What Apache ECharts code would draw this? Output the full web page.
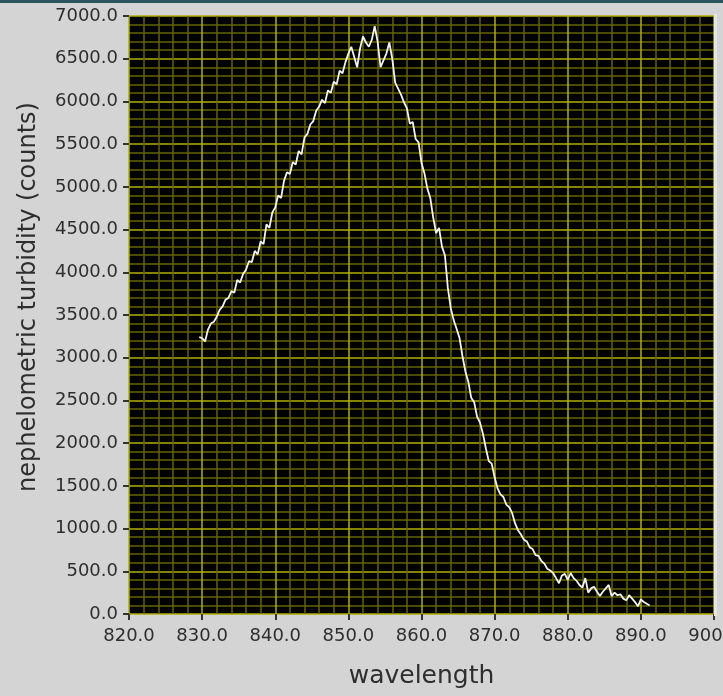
<!DOCTYPE html>
<html>
<head>
<meta charset="utf-8">
<script src="https://cdn.jsdelivr.net/npm/echarts@6/dist/echarts.min.js"></script>
<style>
html,body{margin:0;padding:0;background:#d4d4d4;}
#chart{width:723px;height:696px;}
</style>
</head>
<body>
<div id="chart"></div>
<script>
const wavelength = [
829.6,830.0,830.4,830.8,831.2,831.6,832.0,832.4,832.8,833.2,
833.6,834.0,834.4,834.8,835.2,835.6,836.0,836.4,836.8,837.2,
837.6,838.0,838.4,838.8,839.2,839.6,840.0,840.4,840.8,841.2,
841.6,842.0,842.4,842.8,843.2,843.6,844.0,844.4,844.8,845.2,
845.6,846.0,846.4,846.8,847.2,847.6,848.0,848.4,848.8,849.2,
849.6,850.0,850.4,850.8,851.2,851.6,852.0,852.4,852.8,853.2,
853.6,854.0,854.4,854.8,855.2,855.6,856.0,856.4,856.8,857.2,
857.6,858.0,858.4,858.8,859.2,859.6,860.0,860.4,860.8,861.2,
861.6,862.0,862.4,862.8,863.2,863.6,864.0,864.4,864.8,865.2,
865.6,866.0,866.4,866.8,867.2,867.6,868.0,868.4,868.8,869.2,
869.6,870.0,870.4,870.8,871.2,871.6,872.0,872.4,872.8,873.2,
873.6,874.0,874.4,874.8,875.2,875.6,876.0,876.4,876.8,877.2,
877.6,878.0,878.4,878.8,879.2,879.6,880.0,880.4,880.8,881.2,
881.6,882.0,882.4,882.8,883.2,883.6,884.0,884.4,884.8,885.2,
885.6,886.0,886.4,886.8,887.2,887.6,888.0,888.4,888.8,889.2,
889.6,890.0,890.4,890.8,891.2
];
const turbidity = [
3240,3230,3190,3330,3400,3420,3480,3560,3600,3680,
3700,3780,3760,3910,3880,3980,4030,4130,4120,4250,
4210,4360,4330,4560,4520,4700,4760,4900,4870,5070,
5170,5150,5290,5260,5420,5380,5580,5620,5730,5770,
5890,5940,6020,5980,6130,6100,6230,6200,6360,6330,
6460,6560,6640,6520,6400,6620,6760,6690,6640,6720,
6880,6700,6400,6480,6560,6690,6500,6220,6150,6080,
5990,5920,5740,5760,5560,5520,5280,5160,4980,4870,
4640,4460,4520,4300,4200,3820,3580,3440,3340,3230,
3020,2840,2720,2530,2480,2310,2240,2110,1940,1790,
1760,1600,1470,1400,1370,1280,1250,1180,1060,980,
930,870,850,780,760,690,680,620,590,530,
510,480,420,360,450,470,400,480,420,390,
340,310,420,250,300,320,260,210,260,300,
340,210,250,220,230,180,160,220,180,140,
90,170,140,120,100
];
const xTickLabels = ['820.0','830.0','840.0','850.0','860.0','870.0','880.0','890.0','900.0'];
const yTickLabels = ['0.0','500.0','1000.0','1500.0','2000.0','2500.0','3000.0','3500.0','4000.0','4500.0','5000.0','5500.0','6000.0','6500.0','7000.0'];
const xTitle = 'wavelength';
const yTitle = 'nephelometric turbidity (counts)';

const chart = echarts.init(document.getElementById('chart'), null, {renderer:'canvas'});
const font = 'DejaVu Sans';
const major = '#b0b000';
const minor = '#646400';
chart.setOption({
  backgroundColor: '#d4d4d4',
  animation: false,
  graphic: [
    {type:'rect', left:0, top:0, shape:{width:723, height:3}, style:{fill:'#2a5560'}, z:10},
    {type:'rect', left:714, top:14, shape:{width:3, height:602}, style:{fill:'#e6e6e6'}, z:10}
  ],
  grid: {left:129, right:9, top:16, bottom:82, show:true, backgroundColor:'#000', borderWidth:0, outerBoundsMode:'none', containLabel:false},
  xAxis: {
    type:'value', min:820, max:900, interval:10,
    name: xTitle, nameLocation:'middle', nameGap:50,
    nameTextStyle:{fontFamily:font, fontSize:25, color:'#2e2e2e'},
    axisLine:{show:false},
    axisTick:{show:true, length:6, lineStyle:{color:'#333', width:2}},
    axisLabel:{fontFamily:font, fontSize:18, color:'#2e2e2e', margin:13, hideOverlap:false,
      formatter:(v)=>xTickLabels[Math.round((v-820)/10)]},
    splitLine:{show:true, lineStyle:{color:major, width:1.5}},
    minorTick:{show:false, splitNumber:5},
    minorSplitLine:{show:true, lineStyle:{color:minor, width:1.5}}
  },
  yAxis: {
    type:'value', min:0, max:7000, interval:500,
    name: yTitle, nameLocation:'middle', nameGap:88, nameRotate:90,
    nameTextStyle:{fontFamily:font, fontSize:24, color:'#2e2e2e', padding:[0,0,0,36]},
    axisLine:{show:false},
    axisTick:{show:true, length:6, lineStyle:{color:'#333', width:2}},
    axisLabel:{fontFamily:font, fontSize:18, color:'#2e2e2e', margin:11,
      formatter:(v)=>yTickLabels[Math.round(v/500)]},
    splitLine:{show:true, lineStyle:{color:major, width:1.5}},
    minorTick:{show:false, splitNumber:5},
    minorSplitLine:{show:true, lineStyle:{color:minor, width:1.5}}
  },
  series: [{
    type:'line',
    data: wavelength.map((w,i)=>[w, turbidity[i]]),
    showSymbol:false,
    lineStyle:{color:'#f2f2f2', width:1.8},
    z:5
  }]
});
</script>
</body>
</html>
